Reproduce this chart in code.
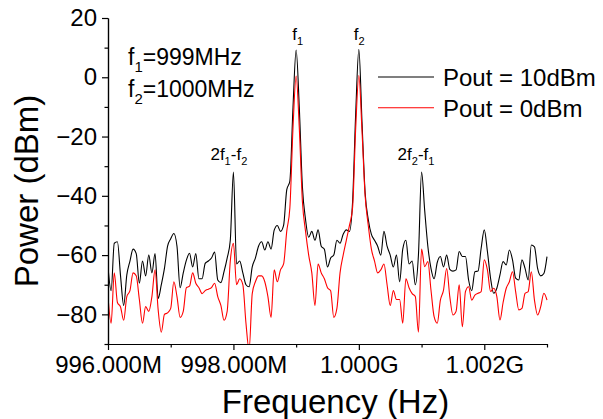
<!DOCTYPE html>
<html>
<head>
<meta charset="utf-8">
<script src="https://cdn.jsdelivr.net/npm/d3@7"></script>
<style>
  body { margin: 0; background: #fff; }
  svg { display: block; font-family: "Liberation Sans", Arial, sans-serif; }
</style>
</head>
<body>
<div class="chart"></div>
<script>
const width = 603,
  height = 419;
const marginLeft = 108,
  marginTop = 18,
  marginRight = 56,
  marginBottom = 75;

// sweep grid (MHz)
const freqStart = 996.0;
const freqStep = 0.05;

// Pout = 10dBm trace (dBm)
const power10 = [
  -64, -72, -56, -55.5, -67, -77, -66.7, -62, -58, -59.5,
  -69.5, -62, -67, -60, -66, -59.5, -74.6, -70, -64.5, -57,
  -54.5, -52.7, -57, -71, -66, -61.7, -59.4, -64, -59.5, -68,
  -68, -62.8, -62, -61, -59, -68.4, -69.3, -65.6, -61, -55,
  -32, -63, -62, -66, -70, -70.7, -64, -61, -57, -55.5,
  -58.3, -55.5, -58, -51.6, -50, -52, -50, -38, -35, -10,
  9.2, -10, -37, -48, -54, -52, -55, -51.5, -57, -58,
  -64, -61, -60, -55, -56, -53, -51.5, -52, -42, -12,
  9.4, -15, -39, -48, -53, -55, -57, -60, -52, -57,
  -60, -64, -60, -69, -58, -55, -63, -62, -70, -60,
  -32, -45, -57, -64.5, -68, -62.5, -60.5, -64, -60, -64.8,
  -65.4, -65, -58.8, -60.5, -60.5, -68.4, -72, -65.6, -65.4, -57.7,
  -51.5, -58.8, -67.8, -72.9, -71.2, -66.7, -62.2, -63.3, -58.3, -61.6,
  -67.8, -68.4, -61.6, -64.5, -68.4, -56.6, -57.2, -64.5, -67, -66.2,
  -60.5,
];

// Pout = 0dBm trace (dBm)
const power0 = [
  -74, -83, -66, -76, -77.5, -82, -74, -72, -66, -67,
  -75, -83, -77.4, -79, -74, -65, -78.5, -86, -80, -79.5,
  -78, -69, -74, -81, -79, -71, -70.5, -66, -69.5, -71,
  -73, -72, -71.5, -71, -69.5, -74, -77, -82, -79, -62,
  -56, -70, -68, -70, -83, -92, -73, -69, -67, -67,
  -69, -74, -81, -65, -69, -65, -63, -52, -44, -17,
  0.4, -17, -42, -52, -60, -66, -77, -63, -66, -68,
  -71, -72, -81, -78, -66, -60, -55, -50, -44, -17,
  0.6, -18, -40, -50, -58, -62, -66, -65, -63, -70,
  -77, -72, -75, -75, -83, -68, -71, -73, -74, -86,
  -58, -63.9, -62.2, -71.8, -80.8, -83, -75.2, -71.8, -64.5, -74,
  -80.2, -79, -70, -84.2, -72.3, -70.7, -75.2, -73.5, -72.9, -72.3,
  -61.6, -65, -72.3, -71.2, -74, -81.9, -76, -71.2, -69, -65.6,
  -72.3, -78.5, -78, -72.9, -72.3, -65.6, -75.2, -80.2, -77.4, -72.9,
  -75.2,
];

const xMajorTicks = [996, 998, 1000, 1002];
const xMinorTicks = [997, 999, 1001, 1003];
const xTickLabels = ["996.000M", "998.000M", "1.000G", "1.002G"];
const yMajorTicks = [-80, -60, -40, -20, 0, 20];
const yMinorTicks = [-90, -70, -50, -30, -10, 10];

const series = [
  { name: "Pout = 10dBm", color: "#000", values: power10 },
  { name: "Pout = 0dBm", color: "#ff0000", values: power0 },
];

const xScale = d3
  .scaleLinear()
  .domain([996, 1003])
  .range([marginLeft, width - marginRight]);
const yScale = d3
  .scaleLinear()
  .domain([-90, 20])
  .range([height - marginBottom, marginTop]);

const svg = d3
  .select(".chart")
  .append("svg")
  .attr("width", width)
  .attr("height", height);

svg
  .append("clipPath")
  .attr("id", "plot-clip")
  .append("rect")
  .attr("x", marginLeft)
  .attr("y", 0)
  .attr("width", width - marginRight - marginLeft + 1)
  .attr("height", height - marginBottom);

const line = d3
  .line()
  .curve(d3.curveMonotoneX)
  .x((d, i) => xScale(freqStart + i * freqStep))
  .y((d) => yScale(d));

svg
  .append("g")
  .attr("clip-path", "url(#plot-clip)")
  .selectAll("path")
  .data(series)
  .enter()
  .append("path")
  .attr("d", (d) => line(d.values))
  .attr("fill", "none")
  .attr("stroke", (d) => d.color)
  .attr("stroke-width", 1.1)
  .attr("stroke-linejoin", "round");

// axes
const styleAxis = (g) => {
  g.selectAll("path, line").attr("stroke", "#000").attr("stroke-width", 1.2);
  g.selectAll("text")
    .attr("fill", "#000")
    .attr("font-size", 24)
    .attr("font-family", '"Liberation Sans", Arial, sans-serif');
};

const xAxis = d3
  .axisBottom(xScale)
  .tickValues(xMajorTicks)
  .tickSize(6)
  .tickSizeOuter(0)
  .tickPadding(6)
  .tickFormat((d, i) => xTickLabels[i]);
const xAxisMinor = d3
  .axisBottom(xScale)
  .tickValues(xMinorTicks)
  .tickSize(3.5)
  .tickSizeOuter(0)
  .tickFormat("");
const yAxis = d3
  .axisLeft(yScale)
  .tickValues(yMajorTicks)
  .tickSize(6)
  .tickSizeOuter(0)
  .tickPadding(5);
const yAxisMinor = d3
  .axisLeft(yScale)
  .tickValues(yMinorTicks)
  .tickSize(3.5)
  .tickSizeOuter(0)
  .tickFormat("");

svg
  .append("g")
  .attr("transform", `translate(0,${height - marginBottom})`)
  .call(xAxisMinor)
  .call(styleAxis);
svg
  .append("g")
  .attr("transform", `translate(0,${height - marginBottom})`)
  .call(xAxis)
  .call(styleAxis);
svg
  .append("g")
  .attr("transform", `translate(${marginLeft},0)`)
  .call(yAxisMinor)
  .call(styleAxis);
svg
  .append("g")
  .attr("transform", `translate(${marginLeft},0)`)
  .call(yAxis)
  .call(styleAxis);

// axis titles
svg
  .append("text")
  .text("Frequency (Hz)")
  .attr("x", (marginLeft + width - marginRight) / 2 + 8)
  .attr("y", 413)
  .attr("text-anchor", "middle")
  .attr("font-size", 33);

svg
  .append("text")
  .text("Power (dBm)")
  .attr("transform", "translate(38,191) rotate(-90)")
  .attr("text-anchor", "middle")
  .attr("font-size", 33);

// text with subscripts: parts = [[text, isSub], ...]
const subText = (x, y, parts, size) => {
  const t = svg
    .append("text")
    .attr("x", x)
    .attr("y", y)
    .attr("font-size", size);
  let shifted = false;
  parts.forEach(([s, sub]) => {
    const span = t.append("tspan").text(s);
    if (sub && !shifted) {
      span.attr("dy", size * 0.3).attr("font-size", size * 0.65);
      shifted = true;
    } else if (sub) {
      span.attr("font-size", size * 0.65);
    } else if (shifted) {
      span.attr("dy", -size * 0.3);
      shifted = false;
    }
  });
};

subText(128, 65, [["f"], ["1", true], ["=999MHz"]], 23);
subText(128, 97, [["f"], ["2", true], ["=1000MHz"]], 23);

subText(xScale(999) - 4, 40, [["f"], ["1", true]], 17);
subText(xScale(1000) - 5, 40, [["f"], ["2", true]], 17);
subText(xScale(998) - 23, 160, [["2f"], ["1", true], ["-f"], ["2", true]], 17);
subText(xScale(1001) - 24, 160, [["2f"], ["2", true], ["-f"], ["1", true]], 17);

// legend
const legend = svg
  .append("g")
  .selectAll("g")
  .data(series)
  .enter()
  .append("g")
  .attr("transform", (d, i) => `translate(378,${77 + i * 30.7})`);

legend
  .append("line")
  .attr("x1", 0)
  .attr("x2", 56)
  .attr("stroke", (d) => d.color)
  .attr("stroke-width", 1.1);

legend
  .append("text")
  .text((d) => d.name)
  .attr("x", 65)
  .attr("y", 9)
  .attr("font-size", 24);
</script>
</body>
</html>
